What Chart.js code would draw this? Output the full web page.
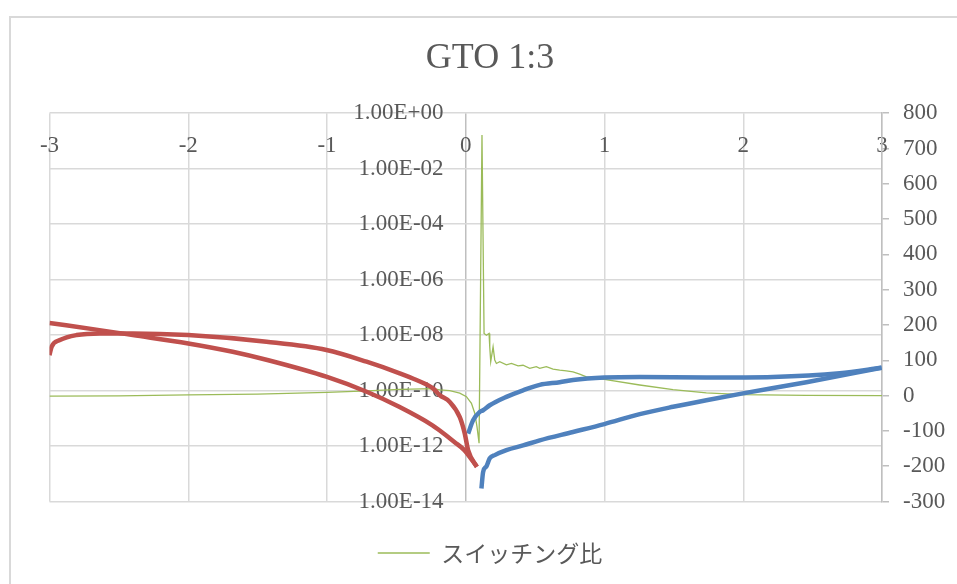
<!DOCTYPE html>
<html>
<head>
<meta charset="utf-8">
<script src="https://cdn.jsdelivr.net/npm/chart.js@4/dist/chart.umd.min.js"></script>
<style>
  html, body { margin: 0; padding: 0; background: #ffffff; overflow: hidden; }
  #frame { position: absolute; left: 9px; top: 16px; width: 1200px; height: 900px;
           border-left: 2px solid #d9d9d9; border-top: 2px solid #d9d9d9; }
  #wrap { position: absolute; left: 0; top: 0; width: 957px; height: 584px; }
</style>
</head>
<body>
<div id="frame"></div>
<div id="wrap"><canvas id="c" width="957" height="584"></canvas></div>
<script>
// Negative sweep, outgoing branch (bias in V, |current| in A)
const negOutV = [-3.00, -2.64, -2.40, -2.00, -1.68, -1.43, -1.00, -0.71, -0.48, -0.24, -0.19, -0.08, -0.01, 0.08];
const negOutI = [2.75e-8, 1.51e-8, 1.0e-8, 5.0e-9, 2.5e-9, 1.26e-9, 3.1e-10, 8.9e-11, 2.6e-11, 5.6e-12, 3.7e-12, 1.38e-12, 7.1e-13, 1.78e-13];

// Negative sweep, return branch
const negBackV = [-3.00, -2.985, -2.925, -2.805, -2.637, -2.40, -2.00, -1.436, -1.004, -0.715, -0.476, -0.355, -0.236, -0.187, -0.115, -0.043, -0.007, 0.017, 0.08];
const negBackI = [1.9e-9, 3.8e-9, 6.6e-9, 1.0e-8, 1.15e-8, 1.15e-8, 1.0e-8, 5.75e-9, 2.9e-9, 1.1e-9, 4.2e-10, 2.4e-10, 1.2e-10, 6.8e-11, 3.9e-11, 1.1e-11, 2.8e-12, 7.1e-13, 1.78e-13];

// Positive sweep, upper branch
const posUpperV = [0.017, 0.053, 0.101, 0.125, 0.173, 0.293, 0.413, 0.533, 0.677, 0.773, 0.999, 1.254, 1.734, 2.214, 2.695, 2.997];
const posUpperI = [2.8e-12, 8.5e-12, 1.7e-11, 1.95e-11, 2.95e-11, 5.9e-11, 1.02e-10, 1.6e-10, 2.0e-10, 2.4e-10, 2.95e-10, 3.1e-10, 2.95e-10, 3.1e-10, 4.2e-10, 6.6e-10];

// Positive sweep, lower branch
const posLowerV = [0.113, 0.125, 0.149, 0.173, 0.209, 0.293, 0.413, 0.533, 0.773, 0.999, 1.254, 1.494, 1.734, 1.998, 2.455, 2.997];
const posLowerI = [2.95e-14, 1.15e-13, 1.86e-13, 3.6e-13, 4.7e-13, 7.1e-13, 1.05e-12, 1.6e-12, 3.2e-12, 6.2e-12, 1.41e-11, 2.6e-11, 4.5e-11, 7.9e-11, 2.0e-10, 6.6e-10];

// Switching ratio (secondary axis)
const ratioV = [-3.0, -2.5, -2.0, -1.5, -1.0, -0.71, -0.476, -0.236, -0.187, -0.115, -0.043, 0.005, 0.041, 0.065, 0.081, 0.096,
                0.117, 0.132, 0.149, 0.168, 0.173, 0.180, 0.197, 0.209, 0.221, 0.245, 0.293, 0.329, 0.377, 0.413, 0.461,
                0.509, 0.533, 0.581, 0.629, 0.677, 0.725, 0.773, 0.821, 0.870, 0.999, 1.254, 1.494, 1.734, 1.998, 2.455, 3.0];
const ratioVal = [-1.5, -0.5, 2, 4, 9, 13.5, 17.5, 19.5, 16, 14, 7, -3, -22, -50, -88, -135,
                  738, 176, 171, 176, 138, 96, 138, 101, 91, 96, 87, 91, 84, 86, 77,
                  82, 77, 82, 75, 72, 70, 67, 61, 53, 46, 30, 17, 8, 3, 0.5, 0];

// Axis ticks
const voltTicks = [-3, -2, -1, 0, 1, 2, 3];
const currentTicks = [1e-14, 1e-12, 1e-10, 1e-8, 1e-6, 1e-4, 1e-2, 1e0];
const ratioRange = [-300, 800];
const ratioStep = 100;

const pts = (xs, ys) => xs.map((x, i) => ({ x: x, y: ys[i] }));
const sci = v => {
  const [m, e] = v.toExponential(2).split('e');
  const n = parseInt(e, 10);
  return m + 'E' + (n < 0 ? '-' : '+') + String(Math.abs(n)).padStart(2, '0');
};

const TEXT = '#595959';
const SERIF = '"Liberation Serif", "DejaVu Serif", serif';
Chart.defaults.font.family = SERIF;
Chart.defaults.font.size = 23;
Chart.defaults.color = TEXT;

const RED = '#C0504D', BLUE = '#4F81BD', GREEN = '#9BBB59';
const thick = { showLine: true, pointRadius: 0, borderWidth: 4.5, cubicInterpolationMode: 'monotone', yAxisID: 'y', order: 1 };

new Chart(document.getElementById('c'), {
  type: 'scatter',
  data: {
    datasets: [
      { label: 'スイッチング比', data: pts(ratioV, ratioVal), yAxisID: 'y2', showLine: true,
        pointRadius: 0, borderWidth: 1.3, borderColor: GREEN, backgroundColor: GREEN, tension: 0, order: 3 },
      Object.assign({ label: 'I (−, out)', data: pts(negOutV, negOutI), borderColor: RED, backgroundColor: RED }, thick),
      Object.assign({ label: 'I (−, back)', data: pts(negBackV, negBackI), borderColor: RED, backgroundColor: RED }, thick),
      Object.assign({ label: 'I (+, upper)', data: pts(posUpperV, posUpperI), borderColor: BLUE, backgroundColor: BLUE }, thick),
      Object.assign({ label: 'I (+, lower)', data: pts(posLowerV, posLowerI), borderColor: BLUE, backgroundColor: BLUE }, thick)
    ]
  },
  options: {
    responsive: false,
    animation: false,
    devicePixelRatio: 1,
    layout: { padding: { top: 10, left: 30, right: 7, bottom: 9.5 } },
    plugins: {
      tooltip: { enabled: false },
      title: {
        display: true, text: 'GTO 1:3', color: TEXT,
        font: { family: SERIF, size: 36, weight: 'normal' },
        padding: { top: 27, bottom: 33 }
      },
      legend: {
        position: 'bottom',
        labels: {
          filter: item => item.datasetIndex === 0,
          usePointStyle: true, pointStyle: 'line', pointStyleWidth: 52,
          padding: 40, color: TEXT,
          font: { family: '"Noto Sans CJK JP", sans-serif', size: 23 }
        }
      }
    },
    scales: {
      // empty spacer on the left edge of the plot
      gutter: {
        type: 'linear', position: 'left', display: true,
        ticks: { display: false }, grid: { display: false }, border: { display: false },
        afterFit: s => { s.width = 19.5; }
      },
      x: {
        type: 'linear', position: { y: 1 }, min: voltTicks[0], max: voltTicks[voltTicks.length - 1],
        afterBuildTicks: s => { s.ticks = voltTicks.map(v => ({ value: v })); },
        ticks: { padding: 19, color: TEXT, callback: v => String(v) },
        grid: { color: c => (c.tick && c.tick.value === 0 ? '#bfbfbf' : '#d9d9d9'), lineWidth: 1.5, drawTicks: false },
        border: { display: false }
      },
      y: {
        type: 'logarithmic', position: { x: -0.16 }, min: currentTicks[0], max: currentTicks[currentTicks.length - 1],
        afterBuildTicks: s => { s.ticks = currentTicks.map(v => ({ value: v })); },
        ticks: { padding: 0, color: TEXT, autoSkip: false, callback: v => sci(v) },
        grid: { color: '#d9d9d9', lineWidth: 1.5, drawTicks: false },
        border: { display: false }
      },
      y2: {
        type: 'linear', position: 'right', min: ratioRange[0], max: ratioRange[1],
        ticks: { stepSize: ratioStep, padding: 14, color: TEXT },
        grid: { drawOnChartArea: false, drawTicks: true, tickLength: 7, color: '#bfbfbf', lineWidth: 1.5 },
        border: { display: true, color: '#bfbfbf', width: 1.5 },
        afterFit: s => { s.width = 68; }
      }
    }
  }
});
</script>
</body>
</html>
